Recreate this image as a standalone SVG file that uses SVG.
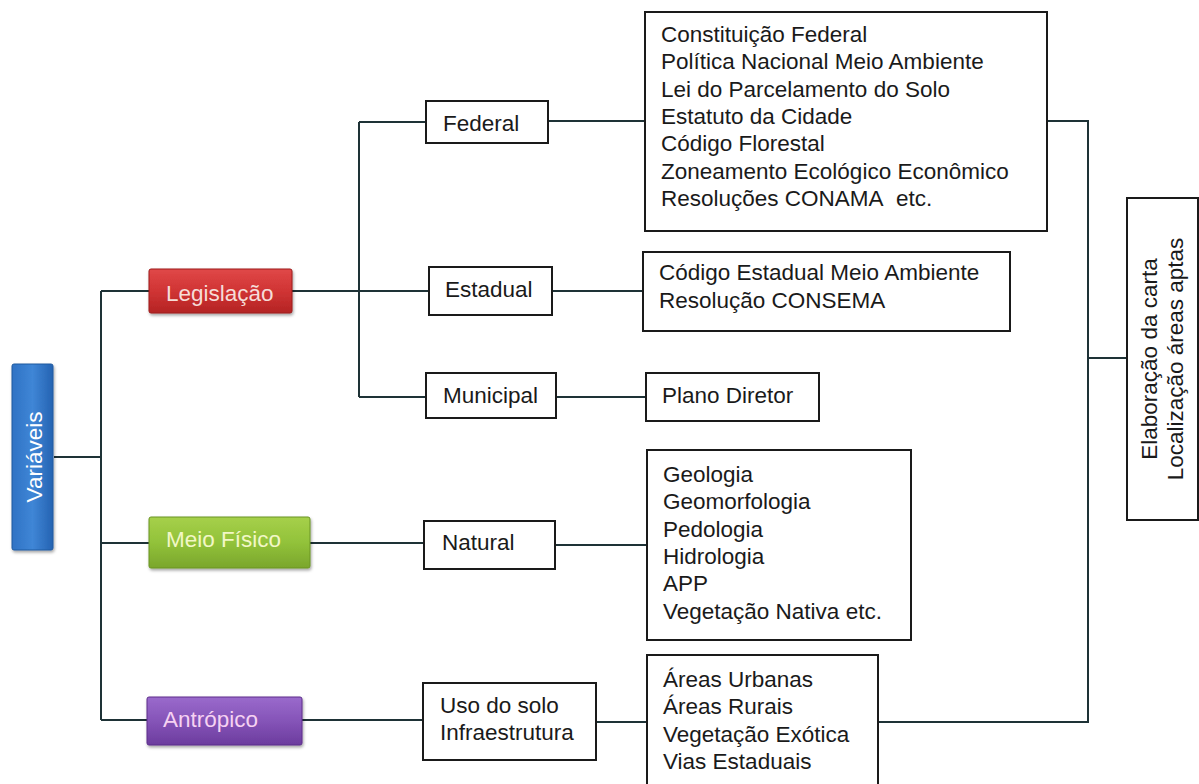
<svg xmlns="http://www.w3.org/2000/svg" width="1199" height="784" viewBox="0 0 1199 784">
  <defs>
    <linearGradient id="gBlue" x1="0" y1="0" x2="1" y2="0">
      <stop offset="0" stop-color="#2f72c4"/>
      <stop offset="0.5" stop-color="#3f86d6"/>
      <stop offset="1" stop-color="#2563b2"/>
    </linearGradient>
    <linearGradient id="gRed" x1="0" y1="0" x2="0" y2="1">
      <stop offset="0" stop-color="#e04848"/>
      <stop offset="0.5" stop-color="#d03434"/>
      <stop offset="1" stop-color="#b42424"/>
    </linearGradient>
    <linearGradient id="gGreen" x1="0" y1="0" x2="0" y2="1">
      <stop offset="0" stop-color="#a6d04a"/>
      <stop offset="0.5" stop-color="#92c23a"/>
      <stop offset="1" stop-color="#7aa62c"/>
    </linearGradient>
    <linearGradient id="gPurple" x1="0" y1="0" x2="0" y2="1">
      <stop offset="0" stop-color="#9a6acc"/>
      <stop offset="0.5" stop-color="#8554b8"/>
      <stop offset="1" stop-color="#6c3c9e"/>
    </linearGradient>
    <filter id="shadow" x="-10%" y="-10%" width="130%" height="140%">
      <feDropShadow dx="1" dy="2" stdDeviation="1.5" flood-color="#000" flood-opacity="0.35"/>
    </filter>
  </defs>
  <style>
    .box { fill: #ffffff; stroke: #1a1a1a; stroke-width: 2; }
    .t { font-family: "Liberation Sans", Arial, sans-serif; font-size: 22.5px; fill: #1a1a1a; }
    .ct { font-family: "Liberation Sans", Arial, sans-serif; font-size: 22.5px; }
    .conn { stroke: #1e3236; stroke-width: 2; fill: none; }
  </style>
  <rect width="1199" height="784" fill="#ffffff"/>

  <g id="connectors">
    <path class="conn" d="M54,457 H101 M101,291 V720 M101,291 H149 M101,543 H149 M101,720 H147"/>
    <path class="conn" d="M292,291 H359 M359,122 V397 M359,122 H426 M359,291 H429 M359,397 H426"/>
    <path class="conn" d="M548,121 H645 M552,291 H643 M556,397 H646"/>
    <path class="conn" d="M310,543 H424 M555,545 H647"/>
    <path class="conn" d="M302,720 H423 M596,722 H647"/>
    <path class="conn" d="M1047,121 H1088 V722 H878 M1088,358 H1127"/>
  </g>

  <g id="variaveis">
    <rect x="12" y="364" width="41" height="186" rx="2" fill="url(#gBlue)" stroke="#1f5aa0" stroke-width="1" filter="url(#shadow)"/>
    <text class="ct" x="42" y="457" font-size="24" fill="#ffffff" text-anchor="middle" transform="rotate(-90 42 457)">Variáveis</text>
  </g>

  <g id="legislacao">
    <rect x="149" y="269" width="143" height="44" rx="2" fill="url(#gRed)" stroke="#9c1c1c" stroke-width="1" filter="url(#shadow)"/>
    <text class="ct" x="166" y="301" fill="#f6dcd8">Legislação</text>
  </g>

  <g id="meio-fisico">
    <rect x="149" y="517" width="161" height="51" rx="2" fill="url(#gGreen)" stroke="#6a9424" stroke-width="1" filter="url(#shadow)"/>
    <text class="ct" x="166" y="547" fill="#f2f7c6">Meio Físico</text>
  </g>

  <g id="antropico">
    <rect x="147" y="697" width="155" height="48" rx="2" fill="url(#gPurple)" stroke="#5c2f8a" stroke-width="1" filter="url(#shadow)"/>
    <text class="ct" x="163" y="727" fill="#f6d2f2">Antrópico</text>
  </g>

  <g id="federal">
    <rect class="box" x="426" y="101" width="122" height="42"/>
    <text class="t" x="443" y="131">Federal</text>
  </g>

  <g id="estadual">
    <rect class="box" x="429" y="267" width="123" height="48"/>
    <text class="t" x="445" y="297">Estadual</text>
  </g>

  <g id="municipal">
    <rect class="box" x="426" y="373" width="130" height="45"/>
    <text class="t" x="443" y="403">Municipal</text>
  </g>

  <g id="natural">
    <rect class="box" x="424" y="521" width="131" height="48"/>
    <text class="t" x="442" y="550">Natural</text>
  </g>

  <g id="uso-solo">
    <rect class="box" x="423" y="683" width="173" height="77"/>
    <text class="t" x="440" y="713">Uso do solo</text>
    <text class="t" x="440" y="740">Infraestrutura</text>
  </g>

  <g id="lista-federal">
    <rect class="box" x="645" y="12" width="402" height="219"/>
    <text class="t" x="661" y="42">Constituição Federal</text>
    <text class="t" x="661" y="69.3">Política Nacional Meio Ambiente</text>
    <text class="t" x="661" y="96.6">Lei do Parcelamento do Solo</text>
    <text class="t" x="661" y="124">Estatuto da Cidade</text>
    <text class="t" x="661" y="151.2">Código Florestal</text>
    <text class="t" x="661" y="178.5">Zoneamento Ecológico Econômico</text>
    <text class="t" x="661" y="205.8">Resoluções CONAMA&#160; etc.</text>
  </g>

  <g id="lista-estadual">
    <rect class="box" x="643" y="252" width="367" height="79"/>
    <text class="t" x="659" y="280">Código Estadual Meio Ambiente</text>
    <text class="t" x="659" y="308">Resolução CONSEMA</text>
  </g>

  <g id="plano-diretor">
    <rect class="box" x="646" y="373" width="173" height="48"/>
    <text class="t" x="662" y="403">Plano Diretor</text>
  </g>

  <g id="lista-meio-fisico">
    <rect class="box" x="647" y="450" width="264" height="190"/>
    <text class="t" x="663" y="482">Geologia</text>
    <text class="t" x="663" y="509.3">Geomorfologia</text>
    <text class="t" x="663" y="536.6">Pedologia</text>
    <text class="t" x="663" y="564">Hidrologia</text>
    <text class="t" x="663" y="591.2">APP</text>
    <text class="t" x="663" y="618.5">Vegetação Nativa etc.</text>
  </g>

  <g id="lista-antropico">
    <rect class="box" x="647" y="655" width="231" height="140"/>
    <text class="t" x="663" y="687">Áreas Urbanas</text>
    <text class="t" x="663" y="714">Áreas Rurais</text>
    <text class="t" x="663" y="741.5">Vegetação Exótica</text>
    <text class="t" x="663" y="768.5">Vias Estaduais</text>
  </g>

  <g id="elaboracao">
    <rect class="box" x="1127" y="198" width="71" height="322"/>
    <text class="t" x="1157" y="359" font-size="23.5" text-anchor="middle" transform="rotate(-90 1157 359)">Elaboração da carta</text>
    <text class="t" x="1183" y="359" font-size="23.5" text-anchor="middle" transform="rotate(-90 1183 359)">Localização áreas aptas</text>
  </g>
</svg>
